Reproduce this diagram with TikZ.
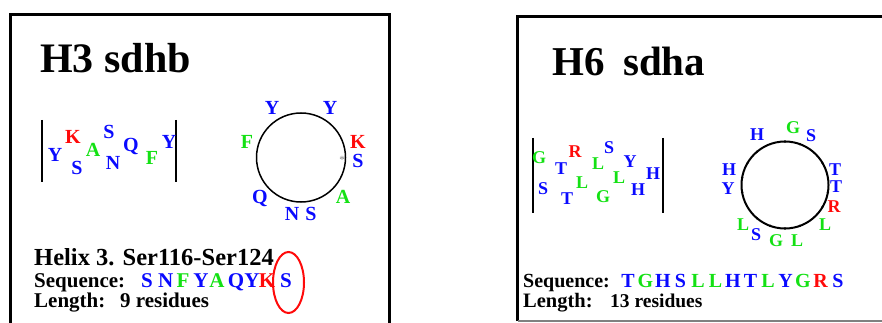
\documentclass[tikz,border=0pt]{standalone}
\usepackage{fontspec}
\setmainfont{Liberation Serif}
\usetikzlibrary{shapes.geometric,calc}
\definecolor{resblue}{RGB}{10,10,255}
\definecolor{resgreen}{RGB}{20,225,20}
\definecolor{resred}{RGB}{255,10,10}
\begin{document}
\begin{tikzpicture}[x=1pt,y=-1pt,
  frame/.style={line width=2.6pt},
  bar/.style={line width=1.4pt},
  wheel/.style={line width=1.5pt},
  title/.style={font=\fontsize{42}{42}\selectfont\bfseries, inner sep=0pt, anchor=base west},
  label/.style={font=\fontsize{21}{21}\selectfont\bfseries, inner sep=0pt, anchor=base west},
  resA/.style={font=\fontsize{20}{20}\selectfont\bfseries, inner sep=0pt},
  resB/.style={font=\fontsize{18}{18}\selectfont\bfseries, inner sep=0pt},
  seq/.style={font=\fontsize{21}{21}\selectfont\bfseries, inner sep=0pt, anchor=base},
  seqB/.style={font=\fontsize{20}{20}\selectfont\bfseries, inner sep=0pt, anchor=base},
  hb/.style={text=resblue}, hg/.style={text=resgreen}, hr/.style={text=resred}]
\useasboundingbox (0,0) rectangle (882,323);

% ---------- panel H3 sdhb ----------
\draw[frame] (10.5,323) -- (10.5,14.5) -- (389.5,14.5) -- (389.5,323);
\node[title] (t1) at (40,73) {H3 sdhb};

% helix net
\draw[bar] (42,120) -- (42,182);
\draw[bar] (176,120) -- (176,182);
\node[resA,hb] (a1) at (55,155) {Y};
\node[resA,hr] (a2) at (73,137) {K};
\node[resA,hb] (a3) at (77,168) {S};
\node[resA,hg] (a4) at (93,150) {A};
\node[resA,hb] (a5) at (109,132) {S};
\node[resA,hb] (a6) at (113,163) {N};
\node[resA,hb] (a7) at (131,147) {Q};
\node[resA,hg] (a8) at (152,158) {F};
\node[resA,hb] (a9) at (169,142) {Y};

% helical wheel
\node[wheel,draw,circle,minimum size=89pt,inner sep=0pt] (w1) at (301,157.5) {};
\node[font=\fontsize{11}{11}\selectfont, text=gray, inner sep=0pt] (ast) at (342,160) {*};
\node[resA,hb] (b1) at (272,108) {Y};
\node[resA,hb] (b2) at (330,108) {Y};
\node[resA,hr] (b3) at (358,142) {K};
\node[resA,hb] (b4) at (358,161) {S};
\node[resA,hg] (b5) at (343,197) {A};
\node[resA,hb] (b6) at (311,214) {S};
\node[resA,hb] (b7) at (292,214) {N};
\node[resA,hb] (b8) at (260,198) {Q};
\node[resA,hg] (b9) at (247,142) {F};

% description
\node[font=\fontsize{24.5}{24.5}\selectfont\bfseries, inner sep=0pt, anchor=base west] (h1) at (34,265) {Helix 3. Ser116-Ser124};
\node[label] (s1) at (34,287) {Sequence:};
\node[seq,hb] (c1) at (147,287) {S};
\node[seq,hb] (c2) at (165.7,287) {N};
\node[seq,hg] (c3) at (183,287) {F};
\node[seq,hb] (c4) at (201,287) {Y};
\node[seq,hg] (c5) at (217,287) {A};
\node[seq,hb] (c6) at (236,287) {Q};
\node[seq,hb] (c7) at (252,287) {Y};
\node[seq,hr] (c8) at (267,287) {K};
\node[seq,hb] (c9) at (286,287) {S};
\node[label] (l1) at (34,307) {Length:};
\node[label] (l1n) at (120,307) {9 residues};
\node[draw=resred, line width=2pt, ellipse, minimum width=31pt, minimum height=61pt, inner sep=0pt] (mark) at (288.5,282.5) {};

% ---------- panel H6 sdha ----------
\draw[frame, line width=2.4pt] (517.5,321) -- (517.5,16.5) -- (882,16.5);
\draw[line width=1.4pt, gray] (517.5,321) -- (882,321);
\node[title,font=\fontsize{41}{41}\selectfont\bfseries] (t2a) at (552,76) {H6};
\node[title,font=\fontsize{41}{41}\selectfont\bfseries] (t2b) at (623,76) {sdha};

% helix net
\draw[bar] (533,138) -- (533,213);
\draw[bar] (663,138) -- (663,213);
\node[resB,hg] (d1) at (539,158) {G};
\node[resB,hb] (d2) at (561,169) {T};
\node[resB,hr] (d3) at (575,152) {R};
\node[resB,hb] (d4) at (543,189) {S};
\node[resB,hb] (d5) at (567,199) {T};
\node[resB,hg] (d6) at (582,183) {L};
\node[resB,hg] (d7) at (598,164) {L};
\node[resB,hg] (d8) at (603,197) {G};
\node[resB,hb] (d9) at (609,148) {S};
\node[resB,hg] (d10) at (619,178) {L};
\node[resB,hb] (d11) at (630,162) {Y};
\node[resB,hb] (d12) at (638,190) {H};
\node[resB,hb] (d13) at (653,174) {H};

% helical wheel
\node[draw,circle,line width=2pt,minimum size=87pt,inner sep=0pt] (w2) at (785,185) {};
\foreach \k in {0,...,12}
  \fill ($(w2.center)+({90-100*\k}:-43.5pt)$) circle (1.3pt);
\node[resB,hb] (e1) at (757,135) {H};
\node[resB,hg] (e2) at (793,128) {G};
\node[resB,hb] (e3) at (811,136) {S};
\node[resB,hb] (e4) at (835,170) {T};
\node[resB,hb] (e5) at (836,187) {T};
\node[resB,hr] (e6) at (834,207) {R};
\node[resB,hg] (e7) at (825,225) {L};
\node[resB,hg] (e8) at (797,241) {L};
\node[resB,hg] (e9) at (776,241) {G};
\node[resB,hb] (e10) at (756,235) {S};
\node[resB,hg] (e11) at (743,225) {L};
\node[resB,hb] (e12) at (728,189) {Y};
\node[resB,hb] (e13) at (729,170) {H};

% description
\node[label,font=\fontsize{20}{20}\selectfont\bfseries] (s2) at (523,287) {Sequence:};
\foreach \r/\c [count=\i from 0] in {T/resblue,G/resgreen,H/resblue,S/resblue,L/resgreen,L/resgreen,H/resblue,T/resblue,L/resgreen,Y/resblue,G/resgreen,R/resred,S/resblue}
  \node[seqB,text=\c] (f\i) at (628+17.5*\i,287) {\r};
\node[label,font=\fontsize{20.5}{20.5}\selectfont\bfseries] (l2) at (523,307) {Length:};
\node[label,font=\fontsize{19.5}{19.5}\selectfont\bfseries] (l2n) at (610,307) {13 residues};
\end{tikzpicture}
\end{document}
